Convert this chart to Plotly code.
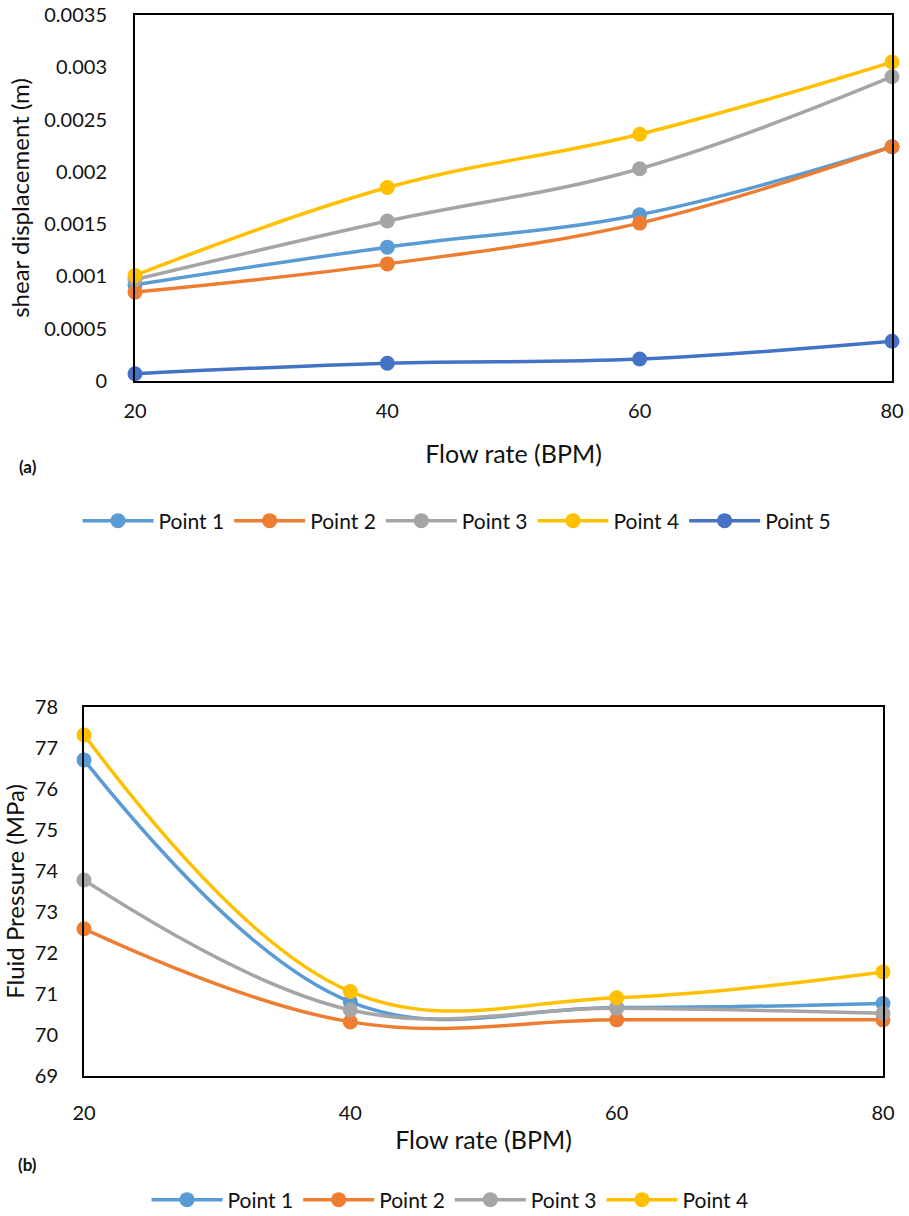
import plotly.graph_objects as go

# ---- data ----
flow_rate = [20, 40, 60, 80]

shear_p1 = [0.00092, 0.00128, 0.00159, 0.00224]
shear_p2 = [0.00085, 0.00112, 0.00151, 0.00224]
shear_p3 = [0.00097, 0.00153, 0.00203, 0.00291]
shear_p4 = [0.00101, 0.00185, 0.00236, 0.00305]
shear_p5 = [0.00007, 0.00017, 0.00021, 0.00038]

press_p1 = [76.71, 70.81, 70.67, 70.77]
press_p2 = [72.59, 70.32, 70.37, 70.37]
press_p3 = [73.78, 70.61, 70.65, 70.53]
press_p4 = [77.32, 71.06, 70.91, 71.54]

names_top = ["Point 1", "Point 2", "Point 3", "Point 4", "Point 5"]
names_bot = ["Point 1", "Point 2", "Point 3", "Point 4"]
colors = ["#5B9BD5", "#ED7D31", "#A5A5A5", "#FFC000", "#4472C4"]

FONT = "Lato"
W, H = 909, 1216

fig = go.Figure()

for name, ys, c in zip(names_top, [shear_p1, shear_p2, shear_p3, shear_p4, shear_p5], colors):
    fig.add_trace(go.Scatter(
        x=flow_rate, y=ys, name=name, mode="lines+markers",
        line=dict(color=c, width=3.5, shape="spline", smoothing=1.1),
        marker=dict(color=c, size=15), cliponaxis=False,
        xaxis="x", yaxis="y", legend="legend"))

for name, ys, c in zip(names_bot, [press_p1, press_p2, press_p3, press_p4], colors):
    fig.add_trace(go.Scatter(
        x=flow_rate, y=ys, name=name, mode="lines+markers",
        line=dict(color=c, width=3.5, shape="spline", smoothing=1.1),
        marker=dict(color=c, size=15), cliponaxis=False,
        xaxis="x2", yaxis="y2", legend="legend2"))

axis_common = dict(showgrid=False, zeroline=False, showline=True, linecolor="black",
                   linewidth=2, mirror=True, ticks="", automargin=False,
                   tickfont=dict(family=FONT, size=20, color="#111"))

# pixel -> paper helpers
def px(x):
    return x / W

def py(y):
    return 1 - y / H

fig.update_layout(
    width=W, height=H,
    margin=dict(l=0, r=0, t=0, b=0, autoexpand=False),
    paper_bgcolor="white", plot_bgcolor="white",
    font=dict(family=FONT, color="#111"),
    xaxis=dict(domain=[px(135), px(892)], range=[20, 80], dtick=20, tick0=20,
               anchor="y", ticklabelstandoff=11,
               title=dict(text="Flow rate (BPM)", font=dict(family=FONT, size=25), standoff=24),
               **axis_common),
    yaxis=dict(domain=[py(381), py(15)], range=[0, 0.0035], dtick=0.0005,
               tickformat="~g", anchor="x", ticklabelstandoff=22,
               title=dict(text="shear displacement (m)", font=dict(family=FONT, size=24), standoff=8),
               **axis_common),
    xaxis2=dict(domain=[px(84), px(883)], range=[20, 80], dtick=20, tick0=20,
                anchor="y2", ticklabelstandoff=18,
                title=dict(text="Flow rate (BPM)", font=dict(family=FONT, size=25), standoff=8),
                **axis_common),
    yaxis2=dict(domain=[py(1076), py(707)], range=[69, 78], dtick=1,
                anchor="x2", ticklabelstandoff=20,
                title=dict(text="Fluid Pressure (MPa)", font=dict(family=FONT, size=24), standoff=10),
                **axis_common),
    legend=dict(orientation="h", x=px(457), xanchor="center", y=py(521), yanchor="middle",
                font=dict(family=FONT, size=21), itemwidth=71, bgcolor="rgba(0,0,0,0)"),
    legend2=dict(orientation="h", x=px(450), xanchor="center", y=py(1200), yanchor="middle",
                 font=dict(family=FONT, size=21), itemwidth=71, bgcolor="rgba(0,0,0,0)"),
    annotations=[
        dict(text="<b>(a)</b>", x=px(17), y=py(466), xref="paper", yref="paper",
             xanchor="left", yanchor="middle", showarrow=False, font=dict(family=FONT, size=17)),
        dict(text="<b>(b)</b>", x=px(16), y=py(1164), xref="paper", yref="paper",
             xanchor="left", yanchor="middle", showarrow=False, font=dict(family=FONT, size=17)),
    ],
)

fig.write_html("out.html")
